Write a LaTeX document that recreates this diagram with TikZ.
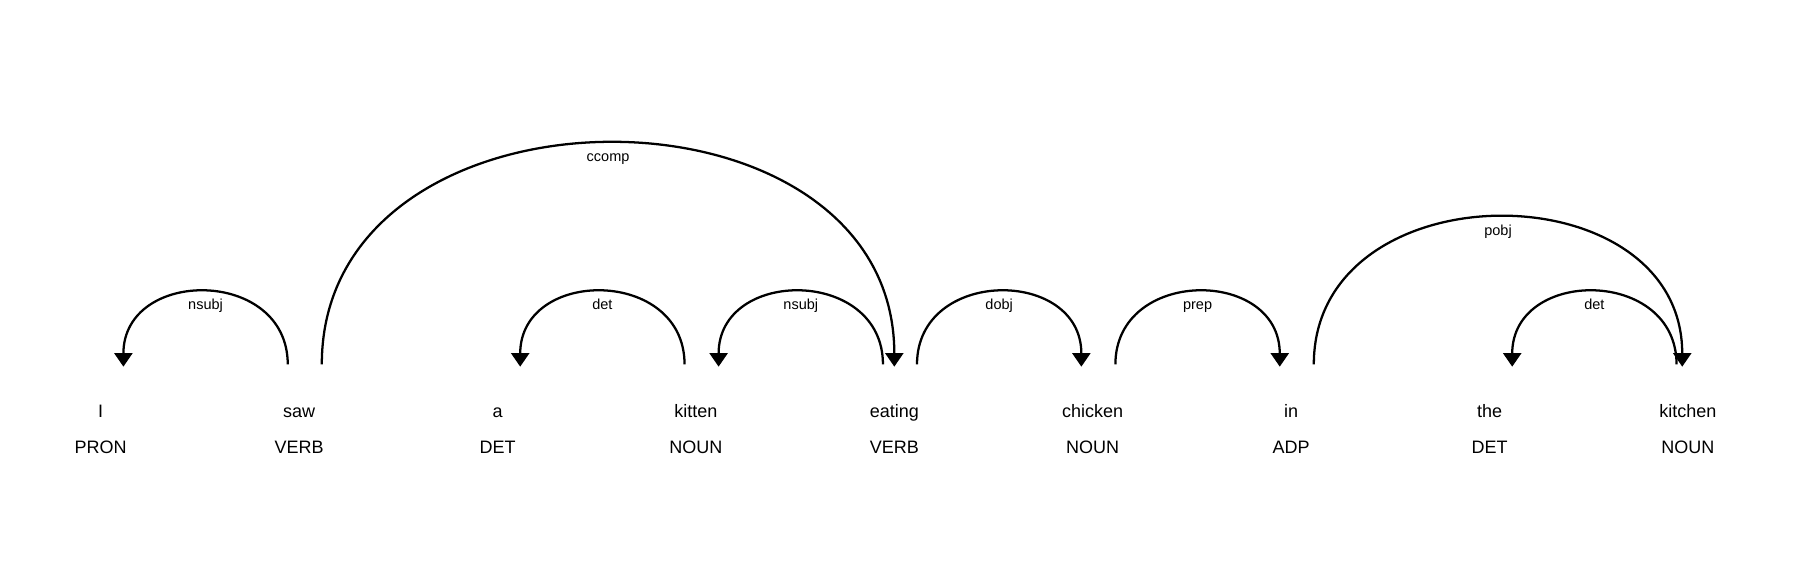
\documentclass[tikz,border=0pt]{standalone}
\usepackage{fontspec}
\setmainfont{Liberation Sans}
\usetikzlibrary{arrows.meta,calc}
\begin{document}
\begin{tikzpicture}[x=1pt,y=1pt,
  word/.style={anchor=base,inner sep=0pt,font=\fontsize{18}{20}\selectfont},
  tag/.style={anchor=base,inner sep=0pt,font=\fontsize{18}{20}\selectfont},
  deparc/.style={line width=2.27pt,-{Triangle[length=13.6pt,width=18.1pt]},shorten >=-2.27pt},
  deplabel/.style={pos=0.5,anchor=base,yshift=-18.1pt,inner sep=0pt,font=\fontsize{14.5}{16}\selectfont}]
\useasboundingbox (0,0) rectangle (1806,563);
% words and tags
\foreach \i/\w/\t in {0/I/PRON,1/saw/VERB,2/a/DET,3/kitten/NOUN,4/eating/VERB,5/chicken/NOUN,6/in/ADP,7/the/DET,8/kitchen/NOUN}{
  \node[word] (w\i) at ({100.7+198.4*\i},145.7) {\w};
  \node[tag] (t\i) at ({100.7+198.4*\i},109.9) {\t};
}
% arc end points
\def\ay{52.9}
\coordinate (h1) at ($(w1.base)+(-11.35,\ay)$);
\coordinate (d1) at ($(w0.base)+(22.7,\ay)$);
\coordinate (h2) at ($(w1.base)+(22.7,\ay)$);
\coordinate (d2) at ($(w4.base)+(0,\ay)$);
\coordinate (h3) at ($(w3.base)+(-11.35,\ay)$);
\coordinate (d3) at ($(w2.base)+(22.7,\ay)$);
\coordinate (h4) at ($(w4.base)+(-11.35,\ay)$);
\coordinate (d4) at ($(w3.base)+(22.7,\ay)$);
\coordinate (h5) at ($(w4.base)+(22.7,\ay)$);
\coordinate (d5) at ($(w5.base)+(-11.35,\ay)$);
\coordinate (h6) at ($(w5.base)+(22.7,\ay)$);
\coordinate (d6) at ($(w6.base)+(-11.35,\ay)$);
\coordinate (h7) at ($(w6.base)+(22.7,\ay)$);
\coordinate (d7) at ($(w8.base)+(-5.675,\ay)$);
\coordinate (h8) at ($(w8.base)+(-11.35,\ay)$);
\coordinate (d8) at ($(w7.base)+(22.7,\ay)$);
% arcs
\draw[deparc] (h1) .. controls +(0,97) and +(0,97) .. node[deplabel]{nsubj} (d1);
\draw[deparc] (h2) .. controls +(0,295) and +(0,295) .. node[deplabel]{ccomp} (d2);
\draw[deparc] (h3) .. controls +(0,97) and +(0,97) .. node[deplabel]{det} (d3);
\draw[deparc] (h4) .. controls +(0,97) and +(0,97) .. node[deplabel]{nsubj} (d4);
\draw[deparc] (h5) .. controls +(0,97) and +(0,97) .. node[deplabel]{dobj} (d5);
\draw[deparc] (h6) .. controls +(0,97) and +(0,97) .. node[deplabel]{prep} (d6);
\draw[deparc] (h7) .. controls +(0,196.5) and +(0,196.5) .. node[deplabel]{pobj} (d7);
\draw[deparc] (h8) .. controls +(0,97) and +(0,97) .. node[deplabel]{det} (d8);
\end{tikzpicture}
\end{document}
